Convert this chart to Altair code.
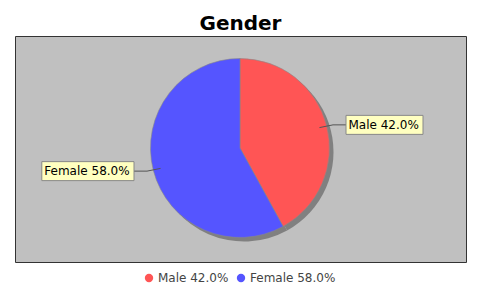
import math
import altair as alt
import pandas as pd

# ---- data ----
categories = ["Male", "Female"]
values = [42.0, 58.0]
colors = ["#FF5555", "#5555FF"]
title_text = "Gender"

# ---- layout (plot-area pixel coordinates) ----
W, H = 451, 226
CX, CY, R = 225, 112, 89.5
SHADOW = 4

labels = [f"{c} {v:.1f}%" for c, v in zip(categories, values)]
total = sum(values)

rows, link_rows = [], []
start = 0.0
for i, (c, v, lab) in enumerate(zip(categories, values, labels)):
    mid = (start + v / 2) / total * 2 * math.pi
    start += v
    s, co = math.sin(mid), math.cos(mid)
    side = 1 if s >= 0 else -1
    ly = CY - co * 93
    bw = 7.6 * len(lab) + 1
    edge = CX + side * 106
    bx1 = edge if side > 0 else edge - bw
    rows.append(dict(cat=c, val=v, label=lab, idx=i, ly=ly,
                     bx1=bx1, bx2=bx1 + bw, by1=ly - 9.5, by2=ly + 9.5,
                     tx=bx1 + 2.5))
    pts = [(CX + s * 82, CY - co * 82), (CX + side * 93, ly), (edge, ly)]
    for k, (px, py) in enumerate(pts):
        link_rows.append(dict(label=lab, k=k, px=px, py=py))

df = pd.DataFrame(rows)
links = pd.DataFrame(link_rows)

xs = alt.Scale(domain=[0, W], nice=False, zero=False)
ys = alt.Scale(domain=[0, H], nice=False, zero=False, reverse=True)

base = alt.Chart(df)

shadow = base.mark_arc(fill="#808080", outerRadius=R).encode(
    theta=alt.Theta("val:Q", stack=True),
    order=alt.Order("idx:Q"),
    x=alt.value(CX + SHADOW), y=alt.value(CY + SHADOW),
)

pie = base.mark_arc(outerRadius=R, stroke="#888888", strokeWidth=0.6).encode(
    theta=alt.Theta("val:Q", stack=True),
    order=alt.Order("idx:Q"),
    color=alt.Color(
        "label:N",
        scale=alt.Scale(domain=labels, range=colors),
        sort=labels,
        legend=alt.Legend(
            title=None, orient="none", legendX=128, legendY=236,
            direction="horizontal", symbolType="circle", symbolSize=70,
            symbolStrokeWidth=0, labelFontSize=12, labelFont="DejaVu Sans",
            labelColor="#444444", labelOffset=3, columnPadding=6,
        ),
    ),
    x=alt.value(CX), y=alt.value(CY),
)

link = alt.Chart(links).mark_line(color="#555555", strokeWidth=1).encode(
    x=alt.X("px:Q", scale=xs, axis=None),
    y=alt.Y("py:Q", scale=ys, axis=None),
    detail="label:N",
    order="k:Q",
)

box_shadow = base.mark_rect(fill="#9a9a9a").encode(
    x=alt.X("bx1:Q", scale=xs, axis=None), x2="bx2:Q",
    y=alt.Y("by1:Q", scale=ys, axis=None), y2="by2:Q",
    xOffset=alt.value(2), yOffset=alt.value(2),
)

box = base.mark_rect(fill="#FFFFC0", stroke="#888888", strokeWidth=1).encode(
    x=alt.X("bx1:Q", scale=xs, axis=None), x2="bx2:Q",
    y=alt.Y("by1:Q", scale=ys, axis=None), y2="by2:Q",
)

text = base.mark_text(align="left", baseline="middle", fontSize=12,
                      font="DejaVu Sans", color="#000000").encode(
    x=alt.X("tx:Q", scale=xs, axis=None),
    y=alt.Y("ly:Q", scale=ys, axis=None),
    text="label:N",
)

chart = alt.layer(shadow, pie, link, box_shadow, box, text).properties(
    width=W, height=H,
    title=alt.TitleParams(title_text, fontSize=20, font="DejaVu Sans",
                          fontWeight="bold", color="#000000",
                          anchor="middle", offset=2),
    autosize=alt.AutoSizeParams(type="none"),
    padding={"left": 15, "top": 36, "right": 14, "bottom": 38},
    background="#FFFFFF",
).configure_view(fill="#C0C0C0", stroke="#333333", strokeWidth=1)

chart.save("out.html", embed_options={"renderer": "svg", "actions": False})
